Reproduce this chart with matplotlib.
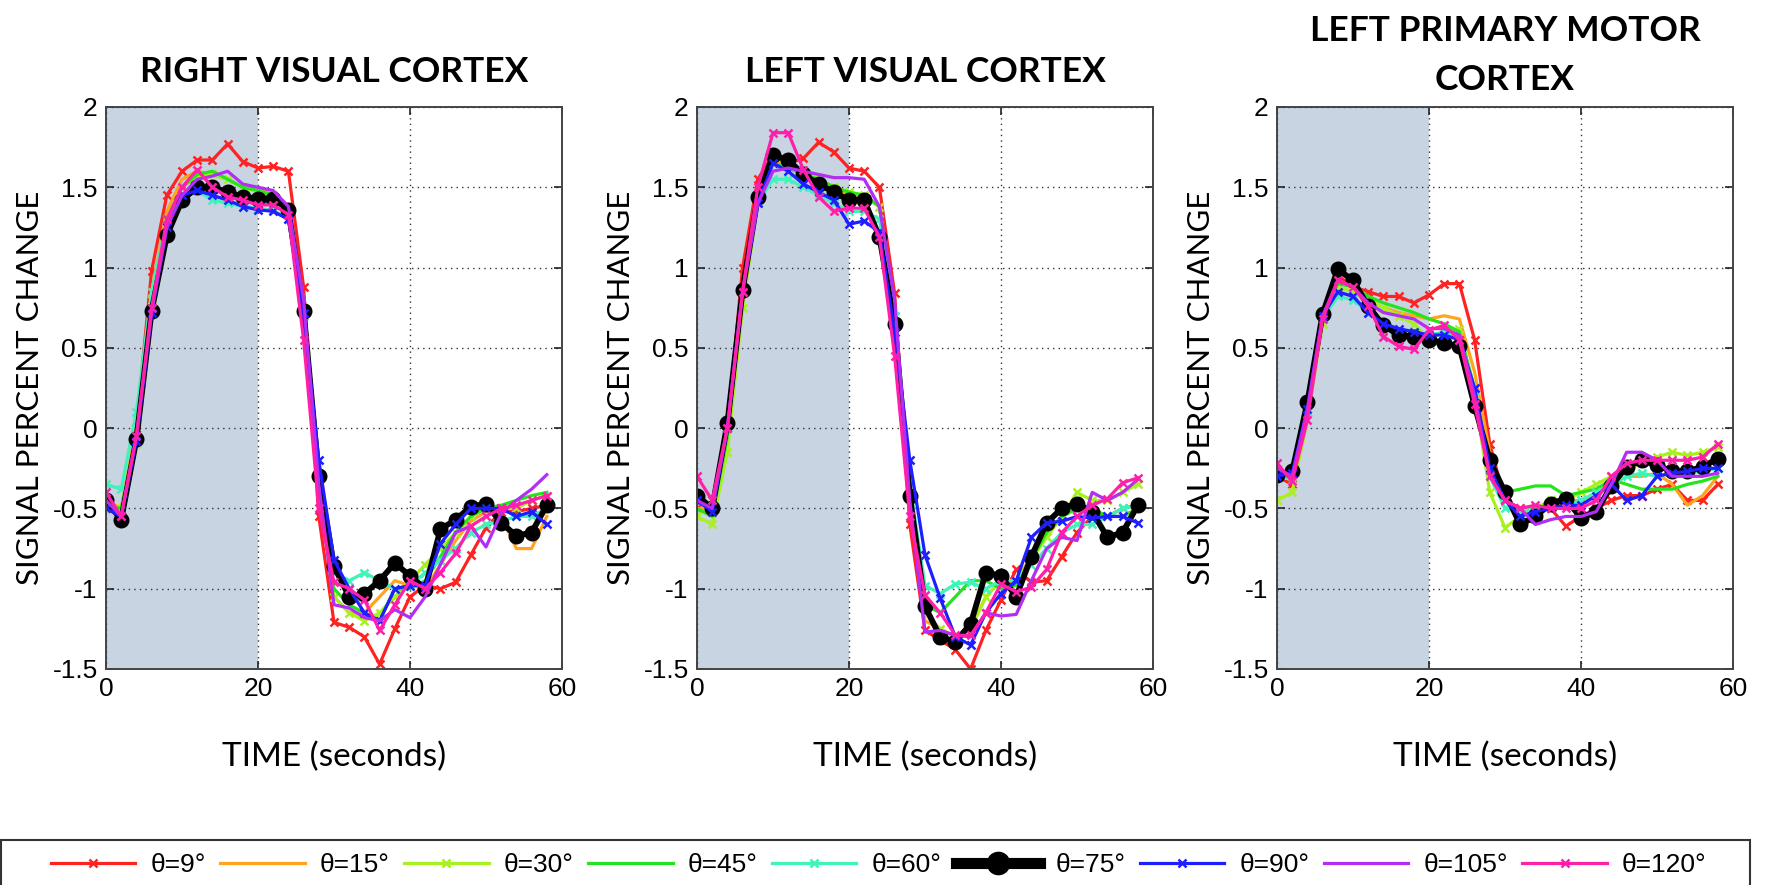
import matplotlib.pyplot as plt
from matplotlib.patches import Rectangle

plt.rcParams['font.family'] = ['Liberation Sans', 'DejaVu Sans']

time_s = [0, 2, 4, 6, 8, 10, 12, 14, 16, 18, 20, 22, 24, 26, 28,
          30, 32, 34, 36, 38, 40, 42, 44, 46, 48, 50, 52, 54, 56, 58]

labels = ['θ=9°', 'θ=15°', 'θ=30°', 'θ=45°', 'θ=60°', 'θ=75°', 'θ=90°', 'θ=105°', 'θ=120°']
colors = ['#FF2222', '#FFA41C', '#A8F01E', '#25E41E', '#3FF3B9', '#000000', '#1E1EFF', '#B22EF5', '#FF20AA']
markers = ['x', None, 'x', None, 'x', 'o', 'x', None, 'x']

titles = ['RIGHT VISUAL CORTEX', 'LEFT VISUAL CORTEX', 'LEFT PRIMARY MOTOR\nCORTEX']

# right visual cortex
rv_9 = [-0.5, -0.55, 0.0, 0.98, 1.45, 1.6, 1.67, 1.67, 1.77, 1.66, 1.62, 1.63, 1.6, 0.88, -0.55,
        -1.21, -1.24, -1.3, -1.47, -1.25, -1.05, -0.98, -1.0, -0.96, -0.79, -0.62, -0.52, -0.52, -0.5, -0.48]
rv_15 = [-0.45, -0.5, 0.0, 0.85, 1.35, 1.55, 1.6, 1.58, 1.55, 1.5, 1.48, 1.47, 1.38, 0.8, -0.4,
         -1.05, -1.15, -1.15, -1.05, -0.95, -0.98, -1.0, -0.85, -0.7, -0.58, -0.52, -0.55, -0.75, -0.75, -0.55]
rv_30 = [-0.5, -0.5, -0.1, 0.8, 1.3, 1.5, 1.57, 1.58, 1.55, 1.5, 1.47, 1.45, 1.35, 0.75, -0.4,
         -1.05, -1.15, -1.2, -1.15, -1.05, -0.95, -0.85, -0.75, -0.65, -0.55, -0.48, -0.5, -0.5, -0.45, -0.42]
rv_45 = [-0.48, -0.5, -0.05, 0.8, 1.3, 1.5, 1.58, 1.6, 1.55, 1.5, 1.48, 1.45, 1.36, 0.75, -0.35,
         -1.0, -1.1, -1.15, -1.2, -1.0, -1.0, -0.95, -0.8, -0.65, -0.55, -0.5, -0.48, -0.45, -0.42, -0.4]
rv_60 = [-0.35, -0.38, 0.1, 0.85, 1.3, 1.45, 1.48, 1.42, 1.4, 1.38, 1.37, 1.36, 1.3, 0.7, -0.3,
         -0.9, -0.95, -0.9, -0.95, -1.0, -0.98, -0.9, -0.82, -0.75, -0.65, -0.6, -0.58, -0.55, -0.55, -0.5]
rv_75 = [-0.45, -0.57, -0.07, 0.73, 1.2, 1.42, 1.5, 1.5, 1.47, 1.44, 1.43, 1.43, 1.36, 0.73, -0.3,
         -0.86, -1.05, -1.03, -0.95, -0.84, -0.92, -1.0, -0.63, -0.57, -0.49, -0.47, -0.59, -0.67, -0.65, -0.48]
rv_90 = [-0.5, -0.55, -0.08, 0.72, 1.25, 1.45, 1.48, 1.45, 1.42, 1.38, 1.36, 1.35, 1.3, 0.72, -0.2,
         -0.82, -1.0, -1.15, -1.2, -1.0, -0.98, -0.98, -0.72, -0.6, -0.5, -0.5, -0.5, -0.55, -0.52, -0.6]
rv_105 = [-0.45, -0.55, -0.05, 0.72, 1.25, 1.45, 1.55, 1.57, 1.6, 1.52, 1.5, 1.48, 1.38, 0.8, -0.35,
          -1.1, -1.12, -1.18, -1.2, -1.13, -1.18, -1.05, -0.85, -0.65, -0.61, -0.74, -0.53, -0.45, -0.38, -0.29]
rv_120 = [-0.4, -0.55, -0.05, 0.75, 1.3, 1.5, 1.61, 1.5, 1.44, 1.42, 1.39, 1.39, 1.33, 0.55, -0.5,
          -0.96, -1.0, -1.07, -1.26, -1.1, -0.95, -1.0, -0.9, -0.78, -0.61, -0.55, -0.5, -0.48, -0.45, -0.42]

# left visual cortex
lv_9 = [-0.5, -0.5, 0.0, 1.0, 1.55, 1.7, 1.65, 1.68, 1.78, 1.72, 1.62, 1.6, 1.5, 0.84, -0.6,
        -1.26, -1.32, -1.38, -1.5, -1.26, -1.07, -0.88, -0.96, -0.95, -0.8, -0.65, -0.55, -0.55, -0.5, -0.48]
lv_15 = [-0.5, -0.5, 0.0, 0.85, 1.45, 1.65, 1.65, 1.6, 1.55, 1.5, 1.45, 1.45, 1.38, 0.75, -0.45,
         -1.2, -1.25, -1.3, -1.25, -1.05, -0.95, -0.95, -0.8, -0.65, -0.55, -0.5, -0.52, -0.55, -0.55, -0.5]
lv_30 = [-0.55, -0.6, -0.15, 0.75, 1.4, 1.68, 1.66, 1.6, 1.55, 1.5, 1.47, 1.45, 1.38, 0.7, -0.45,
         -1.15, -1.25, -1.3, -1.25, -1.05, -0.95, -0.95, -0.82, -0.68, -0.55, -0.4, -0.45, -0.45, -0.4, -0.35]
lv_45 = [-0.5, -0.55, -0.05, 0.85, 1.45, 1.65, 1.62, 1.58, 1.55, 1.5, 1.47, 1.45, 1.38, 0.75, -0.4,
         -1.1, -1.15, -1.05, -0.95, -0.95, -1.0, -0.98, -0.82, -0.65, -0.55, -0.5, -0.5, -0.55, -0.55, -0.5]
lv_60 = [-0.45, -0.5, 0.05, 0.85, 1.4, 1.55, 1.55, 1.5, 1.45, 1.4, 1.35, 1.35, 1.3, 0.7, -0.35,
         -0.98, -1.03, -0.97, -0.96, -1.0, -0.95, -0.95, -0.85, -0.75, -0.65, -0.6, -0.6, -0.55, -0.5, -0.48]
lv_75 = [-0.42, -0.5, 0.03, 0.86, 1.44, 1.7, 1.67, 1.58, 1.52, 1.47, 1.42, 1.42, 1.19, 0.65, -0.42,
         -1.11, -1.3, -1.33, -1.22, -0.9, -0.92, -1.05, -0.8, -0.59, -0.5, -0.47, -0.52, -0.68, -0.65, -0.48]
lv_90 = [-0.45, -0.52, 0.0, 0.85, 1.4, 1.65, 1.6, 1.52, 1.47, 1.42, 1.27, 1.29, 1.22, 0.6, -0.2,
         -0.79, -1.06, -1.3, -1.35, -1.15, -1.03, -0.95, -0.68, -0.59, -0.58, -0.55, -0.56, -0.55, -0.55, -0.59]
lv_105 = [-0.45, -0.5, 0.0, 0.85, 1.4, 1.6, 1.62, 1.6, 1.58, 1.56, 1.56, 1.55, 1.38, 0.8, -0.45,
          -1.27, -1.26, -1.29, -1.3, -1.15, -1.17, -1.16, -0.95, -0.75, -0.68, -0.7, -0.4, -0.45, -0.4, -0.32]
lv_120 = [-0.3, -0.45, 0.0, 0.85, 1.5, 1.84, 1.84, 1.61, 1.44, 1.35, 1.37, 1.37, 1.19, 0.45, -0.55,
          -1.04, -1.15, -1.29, -1.29, -1.15, -0.97, -1.02, -0.99, -0.88, -0.65, -0.55, -0.48, -0.44, -0.34, -0.31]

# left primary motor cortex
lm_9 = [-0.3, -0.35, 0.1, 0.7, 0.95, 0.88, 0.85, 0.82, 0.82, 0.78, 0.83, 0.9, 0.9, 0.55, -0.1,
        -0.45, -0.5, -0.52, -0.5, -0.61, -0.55, -0.5, -0.45, -0.42, -0.42, -0.38, -0.35, -0.45, -0.45, -0.35]
lm_15 = [-0.3, -0.32, 0.1, 0.7, 0.92, 0.88, 0.8, 0.75, 0.72, 0.7, 0.68, 0.7, 0.68, 0.35, -0.15,
         -0.45, -0.5, -0.5, -0.48, -0.45, -0.45, -0.42, -0.35, -0.3, -0.3, -0.28, -0.35, -0.48, -0.42, -0.3]
lm_30 = [-0.45, -0.4, 0.05, 0.65, 0.88, 0.85, 0.8, 0.75, 0.7, 0.65, 0.55, 0.6, 0.62, 0.2, -0.4,
         -0.62, -0.55, -0.5, -0.45, -0.45, -0.4, -0.35, -0.3, -0.25, -0.22, -0.18, -0.15, -0.17, -0.15, -0.12]
lm_45 = [-0.3, -0.3, 0.1, 0.7, 0.9, 0.88, 0.82, 0.78, 0.75, 0.72, 0.68, 0.65, 0.6, 0.25, -0.25,
         -0.4, -0.38, -0.36, -0.36, -0.42, -0.4, -0.38, -0.32, -0.35, -0.38, -0.38, -0.38, -0.35, -0.33, -0.3]
lm_60 = [-0.3, -0.32, 0.1, 0.68, 0.82, 0.8, 0.72, 0.65, 0.6, 0.6, 0.58, 0.6, 0.55, 0.2, -0.3,
         -0.5, -0.52, -0.5, -0.48, -0.48, -0.45, -0.4, -0.35, -0.3, -0.28, -0.3, -0.28, -0.28, -0.27, -0.25]
lm_75 = [-0.29, -0.27, 0.16, 0.71, 0.99, 0.92, 0.76, 0.64, 0.58, 0.57, 0.55, 0.53, 0.51, 0.14, -0.2,
         -0.4, -0.6, -0.55, -0.47, -0.44, -0.56, -0.52, -0.36, -0.24, -0.2, -0.23, -0.27, -0.27, -0.24, -0.19]
lm_90 = [-0.3, -0.28, 0.12, 0.7, 0.85, 0.82, 0.72, 0.65, 0.62, 0.6, 0.58, 0.58, 0.55, 0.25, -0.25,
         -0.45, -0.55, -0.52, -0.5, -0.48, -0.48, -0.42, -0.35, -0.45, -0.42, -0.3, -0.28, -0.27, -0.25, -0.25]
lm_105 = [-0.25, -0.3, 0.12, 0.7, 0.92, 0.88, 0.78, 0.72, 0.7, 0.68, 0.62, 0.62, 0.58, 0.2, -0.3,
          -0.45, -0.5, -0.6, -0.57, -0.55, -0.55, -0.52, -0.35, -0.15, -0.15, -0.2, -0.3, -0.3, -0.3, -0.28]
lm_120 = [-0.22, -0.33, 0.05, 0.68, 0.92, 0.88, 0.76, 0.57, 0.51, 0.49, 0.61, 0.64, 0.55, 0.15, -0.3,
          -0.45, -0.5, -0.48, -0.5, -0.5, -0.5, -0.45, -0.3, -0.22, -0.2, -0.2, -0.2, -0.2, -0.18, -0.1]

panels = [
    [rv_9, rv_15, rv_30, rv_45, rv_60, rv_75, rv_90, rv_105, rv_120],
    [lv_9, lv_15, lv_30, lv_45, lv_60, lv_75, lv_90, lv_105, lv_120],
    [lm_9, lm_15, lm_30, lm_45, lm_60, lm_75, lm_90, lm_105, lm_120],
]

W, H = 1766, 885
fig = plt.figure(figsize=(W / 100, H / 100), dpi=100)

lefts = [106, 697, 1277]
axes = []
for k in range(3):
    ax = fig.add_axes([lefts[k] / W, (H - 669) / H, 456 / W, 562 / H])
    axes.append(ax)
    ax.axvspan(0, 20, color='#C8D4E2', lw=0, zorder=0)
    for vals, c, m, lab in zip(panels[k], colors, markers, labels):
        if m == 'o':
            ax.plot(time_s, vals, color=c, lw=4.2, marker='o', ms=10.5, label=lab)
        else:
            ax.plot(time_s, vals, color=c, lw=2.3, marker=m, ms=6, mew=1.8, label=lab)
    ax.set_xlim(0, 60)
    ax.set_ylim(-1.5, 2)
    ax.set_xticks([0, 20, 40, 60])
    ax.set_xticklabels(['0', '20', '40', '60'])
    ax.set_yticks([-1.5, -1, -0.5, 0, 0.5, 1, 1.5, 2])
    ax.set_yticklabels(['-1.5', '-1', '-0.5', '0', '0.5', '1', '1.5', '2'])
    ax.set_axisbelow(True)
    ax.grid(True, ls=(0, (1, 3)), color='#333333', lw=1)
    ax.tick_params(direction='in', top=True, right=True, length=6, width=1.2,
                   labelsize=19, pad=6, colors='#222222', labelcolor='black')
    for s in ax.spines.values():
        s.set_color('#444444')
        s.set_linewidth(1.4)
    if k == 2:
        ax.set_title(titles[k], family='Lato', fontsize=25.5, fontweight='bold', pad=12, linespacing=1.68)
    else:
        ax.set_title(titles[k], family='Lato', fontsize=25.5, fontweight='bold', pad=18)
    ax.set_xlabel('TIME (seconds)', family='Lato', fontsize=24, labelpad=29)
    ax.set_ylabel('SIGNAL PERCENT CHANGE', family='Lato', fontsize=22.5, labelpad=6)

handles, labs = axes[0].get_legend_handles_labels()
leg = fig.legend(handles, labs, loc='center left', bbox_to_anchor=(51 / W, 20 / H),
                 ncol=9, fontsize=19, handlelength=3.2, handletextpad=0.57, columnspacing=0.55,
                 frameon=False, borderpad=0, borderaxespad=0)
leg_lines = leg.get_lines()
leg_lines[5].set_linewidth(8)
leg_lines[5].set_markersize(16)

# legend box, its lower edge runs past the bottom of the figure
fig.patches.append(Rectangle((1 / W, -12 / H), 1749 / W, 57 / H, transform=fig.transFigure,
                             fill=False, ec='#333333', lw=1.5))

fig.savefig('out.png', dpi=100)
